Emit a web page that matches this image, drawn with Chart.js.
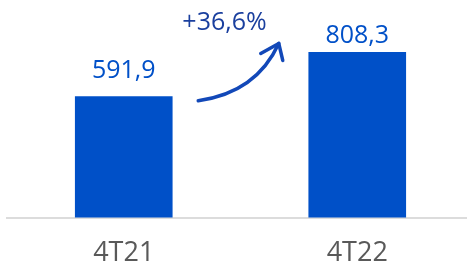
<!DOCTYPE html>
<html>
<head>
<meta charset="utf-8">
<script src="https://cdn.jsdelivr.net/npm/chart.js@4.4.0/dist/chart.umd.min.js"></script>
<style>
  html, body { margin: 0; padding: 0; background: #fff; overflow: hidden; }
  #wrap { width: 474px; height: 290px; position: relative; }
</style>
</head>
<body>
<div id="wrap"><canvas id="grafico"></canvas></div>
<script>
var periodos = ['4T21', '4T22'];
var valores = [591.9, 808.3];
var etiquetas = ['591,9', '808,3'];
var variacion = '+36,6%';

var azul = '#0050c8';

// etiquetas de valor encima de cada barra
var pluginValores = {
    id: 'valores',
    afterDatasetsDraw: function (chart) {
        var ctx = chart.ctx;
        var meta = chart.getDatasetMeta(0);
        var separacion = [19, 9];
        ctx.save();
        ctx.fillStyle = azul;
        ctx.font = '25px "Open Sans", sans-serif';
        ctx.textAlign = 'center';
        ctx.textBaseline = 'alphabetic';
        meta.data.forEach(function (bar, i) {
            ctx.fillText(etiquetas[i], bar.x, bar.y - separacion[i]);
        });
        ctx.restore();
    }
};

// flecha curva con el porcentaje de variación
var pluginFlecha = {
    id: 'flecha',
    afterDatasetsDraw: function (chart) {
        var ctx = chart.ctx;
        var meta = chart.getDatasetMeta(0);
        var b1 = meta.data[0], b2 = meta.data[1];
        var w = b1.width;
        var x0 = b1.x + w / 2 + 26, y0 = b1.y + 4;
        var x1 = b2.x - w / 2 - 30, y1 = b2.y - 9;
        var cx = x0 + (x1 - x0) * 0.72, cy = y0 - 8;
        ctx.save();
        ctx.strokeStyle = '#1248b8';
        ctx.lineWidth = 3.5;
        ctx.lineCap = 'round';
        ctx.lineJoin = 'round';
        ctx.beginPath();
        ctx.moveTo(x0, y0);
        ctx.quadraticCurveTo(cx, cy, x1, y1);
        ctx.stroke();
        ctx.beginPath();
        ctx.moveTo(x1 - 18, y1 + 10);
        ctx.lineTo(x1, y1);
        ctx.lineTo(x1 + 4, y1 + 17);
        ctx.stroke();

        ctx.fillStyle = '#1a3f9e';
        ctx.font = '25px "Open Sans", sans-serif';
        ctx.textAlign = 'center';
        ctx.textBaseline = 'alphabetic';
        ctx.fillText(variacion, (x0 + x1) / 2 - 14, 30);
        ctx.restore();
    }
};

new Chart(document.getElementById('grafico'), {
    type: 'bar',
    data: {
        labels: periodos,
        datasets: [{
            data: valores,
            backgroundColor: azul,
            barThickness: 97,
            borderWidth: 0
        }]
    },
    options: {
        responsive: true,
        maintainAspectRatio: false,
        animation: false,
        layout: { padding: { left: 7, right: 0, top: 0, bottom: 0 } },
        plugins: { legend: { display: false }, tooltip: { enabled: false } },
        scales: {
            x: {
                grid: { display: false, drawTicks: false },
                border: { display: true, color: '#dcdcdc', width: 2 },
                ticks: {
                    color: '#595959',
                    font: { family: '"Open Sans", sans-serif', size: 27 },
                    padding: 20
                }
            },
            y: {
                display: false,
                min: 0,
                max: 1065
            }
        }
    },
    plugins: [pluginValores, pluginFlecha]
});
</script>
</body>
</html>
